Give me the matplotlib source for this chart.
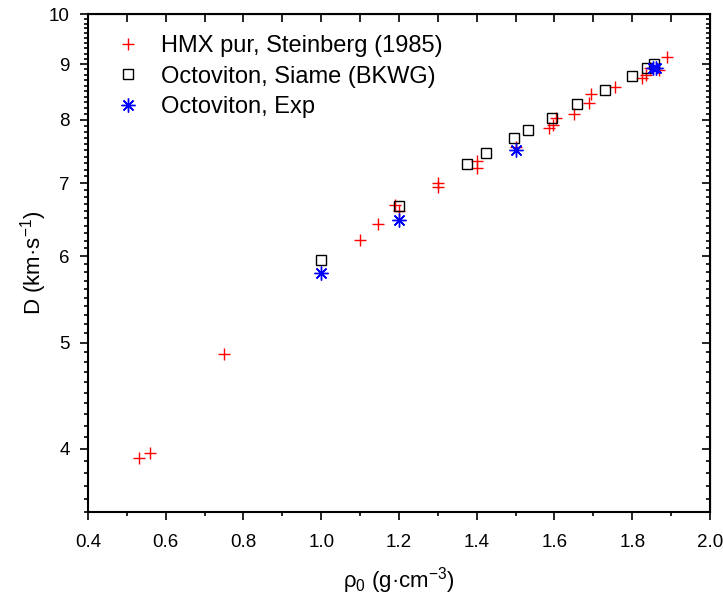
import numpy as np
import matplotlib
matplotlib.use('Agg')
import matplotlib.pyplot as plt
from matplotlib.ticker import FixedLocator, MultipleLocator, NullFormatter

plt.rcParams['font.family'] = ['Liberation Sans', 'DejaVu Sans']

# HMX pur, Steinberg (1985)
rho_hmx = [0.53, 0.56, 0.75, 1.10, 1.145, 1.19, 1.20, 1.30, 1.30, 1.40, 1.40, 1.50,
           1.585, 1.595, 1.605, 1.65, 1.69, 1.695, 1.755, 1.825, 1.835, 1.845, 1.87, 1.89]
D_hmx = [3.92, 3.96, 4.88, 6.21, 6.42, 6.68, 6.60, 7.00, 6.94, 7.33, 7.23, 7.55,
         7.86, 7.91, 8.03, 8.10, 8.29, 8.45, 8.57, 8.74, 8.80, 8.92, 8.89, 9.13]

# Octoviton, Siame (BKWG)
rho_siame = [1.0, 1.2, 1.375, 1.424, 1.496, 1.532, 1.594, 1.658, 1.73, 1.80, 1.838, 1.856]
D_siame = [5.95, 6.67, 7.29, 7.46, 7.70, 7.83, 8.03, 8.27, 8.52, 8.78, 8.92, 9.00]

# Octoviton, Exp
rho_exp = [1.0, 1.2, 1.5, 1.853, 1.862]
D_exp = [5.79, 6.48, 7.51, 8.92, 8.92]

fig = plt.figure(figsize=(7.23, 6.02), dpi=100)
ax = fig.add_axes([0.1217, 0.1495, 0.982 - 0.1217, 0.9767 - 0.1495])

ax.plot(rho_hmx, D_hmx, '+', color='red', markersize=8, markeredgewidth=1.0,
        linestyle='none', label='HMX pur, Steinberg (1985)')
ax.plot(rho_siame, D_siame, 's', markerfacecolor='none', markeredgecolor='black',
        markersize=7.5, markeredgewidth=1.0, linestyle='none',
        label='Octoviton, Siame (BKWG)')
ax.plot(rho_exp, D_exp, marker=(8, 2, 0), color='blue', markersize=10,
        markeredgewidth=1.0, linestyle='none', label='Octoviton, Exp')

ax.set_yscale('log')
ax.set_xlim(0.4, 2.0)
ax.set_ylim(3.5, 10)

ax.xaxis.set_major_locator(MultipleLocator(0.2))
ax.xaxis.set_minor_locator(MultipleLocator(0.1))
ax.xaxis.set_major_formatter(plt.FuncFormatter(lambda v, p: f'{v:.1f}'))

ax.yaxis.set_major_locator(FixedLocator([4, 5, 6, 7, 8, 9, 10]))
ax.yaxis.set_minor_locator(FixedLocator(np.arange(3.5, 10.0, 0.1)))
ax.yaxis.set_major_formatter(plt.FuncFormatter(lambda v, p: f'{v:g}'))
ax.yaxis.set_minor_formatter(NullFormatter())

ax.tick_params(which='both', direction='out', top=False, right=False,
               labelsize=13.5, width=1.2)
ax.tick_params(which='major', length=6)
ax.tick_params(which='minor', length=3)
ax.tick_params(axis='x', pad=10)
ax.tick_params(axis='y', pad=7)

# mirrored inward ticks on top and right
axt = ax.secondary_xaxis('top')
axt.xaxis.set_major_locator(MultipleLocator(0.1))
axt.tick_params(direction='in', length=6, width=1.2, labeltop=False)
axr = ax.secondary_yaxis('right')
axr.yaxis.set_major_locator(FixedLocator([4, 5, 6, 7, 8, 9, 10]))
axr.yaxis.set_minor_locator(FixedLocator(np.arange(3.5, 10.0, 0.1)))
axr.yaxis.set_minor_formatter(NullFormatter())
axr.tick_params(which='major', direction='in', length=6, width=1.2, labelright=False)
axr.tick_params(which='minor', direction='in', length=3, width=1.2)

for s in ax.spines.values():
    s.set_linewidth(1.5)

ax.set_xlabel(r'$\mathregular{\rho_0}$ (g·cm$^{\mathregular{-3}}$)', fontsize=16,
              labelpad=10)
ax.set_ylabel(r'D (km·s$^{\mathregular{-1}}$)', fontsize=16, labelpad=0)

ax.legend(loc='upper left', frameon=False, fontsize=17, handletextpad=0.6,
          borderaxespad=0.5, labelspacing=0.35, handlelength=1.6)

fig.savefig('out.png', dpi=100)
